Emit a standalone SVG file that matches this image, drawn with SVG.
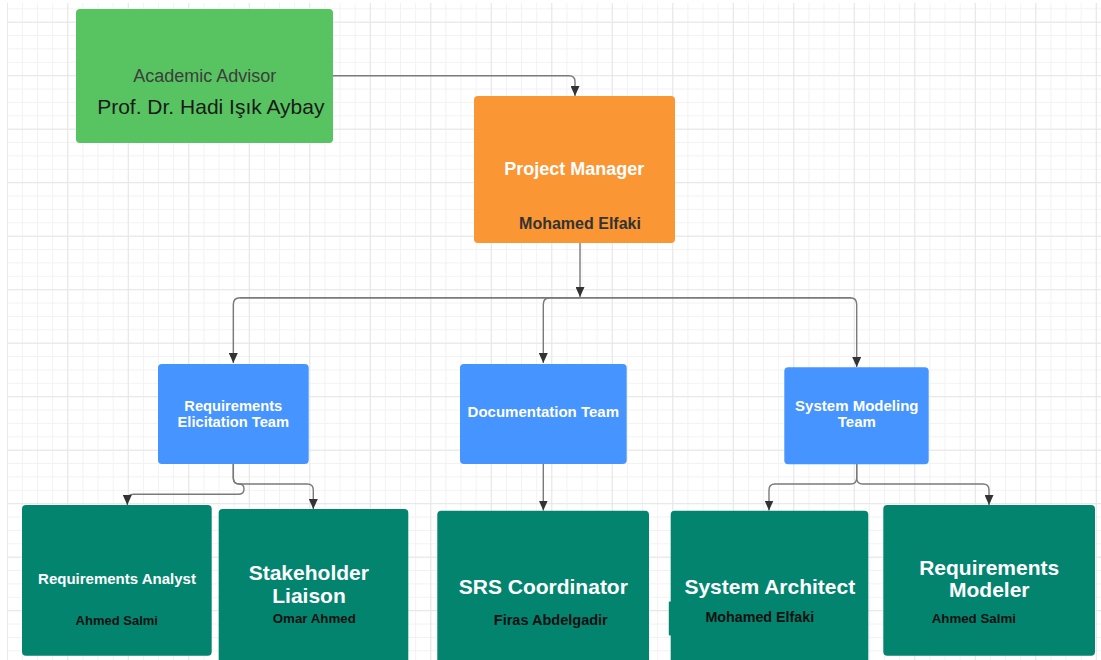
<svg xmlns="http://www.w3.org/2000/svg" width="1101" height="660" viewBox="0 0 1101 660">
  <defs>
    <pattern id="gridMinor" patternUnits="userSpaceOnUse" x="6.8" y="8.3" width="15.125" height="13.375">
      <path d="M0.5,0 V13.375 M0,0.5 H15.125" fill="none" stroke="#f2f2f2" stroke-width="1"/>
    </pattern>
    <pattern id="gridMajor" patternUnits="userSpaceOnUse" x="6.8" y="21.7" width="60.5" height="53.5">
      <path d="M0.5,0 V53.5 M0,0.5 H60.5" fill="none" stroke="#e6e6e6" stroke-width="1"/>
    </pattern>
    <marker id="arrow" markerUnits="userSpaceOnUse" markerWidth="10" markerHeight="9" refX="10" refY="4.5" orient="auto">
      <path d="M0,0 L10,4.5 L0,9 z" fill="#333333"/>
    </marker>
    <style>
      .box-green { fill: #57c461; }
      .box-orange { fill: #fb9634; }
      .box-blue { fill: #4594ff; }
      .box-teal { fill: #03846f; }
      .t { font-family: "Liberation Sans", Arial, sans-serif; text-anchor: middle; }
      .b { font-weight: bold; }
      .w { fill: #ffffff; }
      .k { fill: #111111; }
      .link { fill: none; stroke: #7a7a7a; stroke-width: 1.4; marker-end: url(#arrow); }
      .seg { fill: none; stroke: #7a7a7a; stroke-width: 1.4; }
    </style>
  </defs>

  <!-- canvas with grid -->
  <rect x="0" y="0" width="1101" height="660" fill="#ffffff"/>
  <rect x="7" y="3" width="1094" height="657" fill="url(#gridMinor)"/>
  <rect x="7" y="3" width="1094" height="657" fill="url(#gridMajor)"/>

  <!-- connectors -->
  <g id="connectors">
    <path class="link" d="M333,75.7 H569 Q575,75.7 575,81.7 V96"/>
    <path class="link" d="M580,243 V297"/>
    <path class="seg" d="M240,297.7 H851"/>
    <path class="link" d="M580,297.7 H240 Q233.3,297.7 233.3,304.4 V363"/>
    <path class="link" d="M580,297.7 H550 Q543.3,297.7 543.3,304.4 V363"/>
    <path class="link" d="M580,297.7 H850 Q856.7,297.7 856.7,304.4 V367"/>
    <path class="link" d="M233.3,464 V478 Q233.3,484 239.3,484 Q244,484 244,489 Q244,494.3 238,494.3 H133.3 Q127.3,494.3 127.3,500.3 V505"/>
    <path class="link" d="M233.3,464 V478 Q233.3,484 239.3,484 H307.3 Q313.3,484 313.3,490 V509"/>
    <path class="link" d="M543.3,464 V510.5"/>
    <path class="link" d="M856.7,464 V478 Q856.7,484 850.7,484 H775 Q769,484 769,490 V510.5"/>
    <path class="link" d="M856.7,464 V478 Q856.7,484 862.7,484 H983 Q989,484 989,490 V505"/>
  </g>

  <g id="academic-advisor">
    <rect class="box-green" x="76" y="9" width="257" height="134" rx="4"/>
    <text class="t" x="204.7" y="81.8" font-size="18" fill="#3d3d3d">Academic Advisor</text>
    <text class="t" x="210.8" y="114" font-size="21" fill="#1a1a1a">Prof. Dr. Hadi Işık Aybay</text>
  </g>

  <g id="project-manager">
    <rect class="box-orange" x="474" y="96" width="201" height="147" rx="4"/>
    <text class="t b w" x="574.3" y="175" font-size="18">Project Manager</text>
    <text class="t b" x="580" y="228.5" font-size="16" fill="#333333">Mohamed Elfaki</text>
  </g>

  <g id="requirements-elicitation-team">
    <rect class="box-blue" x="158" y="364" width="150.7" height="100" rx="4"/>
    <text class="t b w" x="233.3" y="411.3" font-size="14.7">Requirements</text>
    <text class="t b w" x="233.3" y="427.3" font-size="14.7">Elicitation Team</text>
  </g>

  <g id="documentation-team">
    <rect class="box-blue" x="460" y="364" width="166.7" height="100" rx="4"/>
    <text class="t b w" x="543.3" y="417.4" font-size="15">Documentation Team</text>
  </g>

  <g id="system-modeling-team">
    <rect class="box-blue" x="784.3" y="367.3" width="144.4" height="97" rx="4"/>
    <text class="t b w" x="856.8" y="411.4" font-size="15">System Modeling</text>
    <text class="t b w" x="856.8" y="427" font-size="15">Team</text>
  </g>

  <g id="requirements-analyst">
    <rect class="box-teal" x="22" y="505" width="189.7" height="150.7" rx="4"/>
    <text class="t b w" x="117" y="583.7" font-size="15">Requirements Analyst</text>
    <text class="t b k" x="116.8" y="625.4" font-size="13">Ahmed Salmi</text>
  </g>

  <g id="stakeholder-liaison">
    <rect class="box-teal" x="218.7" y="509" width="189.6" height="155" rx="4"/>
    <text class="t b w" x="308.8" y="580.2" font-size="21">Stakeholder</text>
    <text class="t b w" x="309" y="602.8" font-size="21">Liaison</text>
    <text class="t b k" x="314.3" y="623" font-size="13.3">Omar Ahmed</text>
  </g>

  <g id="srs-coordinator">
    <rect class="box-teal" x="437.3" y="510.7" width="211.7" height="155" rx="4"/>
    <text class="t b w" x="543.3" y="593.5" font-size="21">SRS Coordinator</text>
    <text class="t b k" x="550.8" y="624.5" font-size="14.5">Firas Abdelgadir</text>
  </g>

  <g id="system-architect">
    <rect class="box-teal" x="668.8" y="601.5" width="6" height="34" rx="1"/>
    <rect class="box-teal" x="670.7" y="510.7" width="197.6" height="155" rx="4"/>
    <text class="t b w" x="769.8" y="593.5" font-size="21">System Architect</text>
    <text class="t b k" x="759.8" y="621.8" font-size="14.3">Mohamed Elfaki</text>
  </g>

  <g id="requirements-modeler">
    <rect class="box-teal" x="883.3" y="505" width="211.7" height="150.7" rx="4"/>
    <text class="t b w" x="989.2" y="574.8" font-size="21">Requirements</text>
    <text class="t b w" x="989.3" y="596.8" font-size="21">Modeler</text>
    <text class="t b k" x="973.8" y="623.1" font-size="13.3">Ahmed Salmi</text>
  </g>
</svg>
